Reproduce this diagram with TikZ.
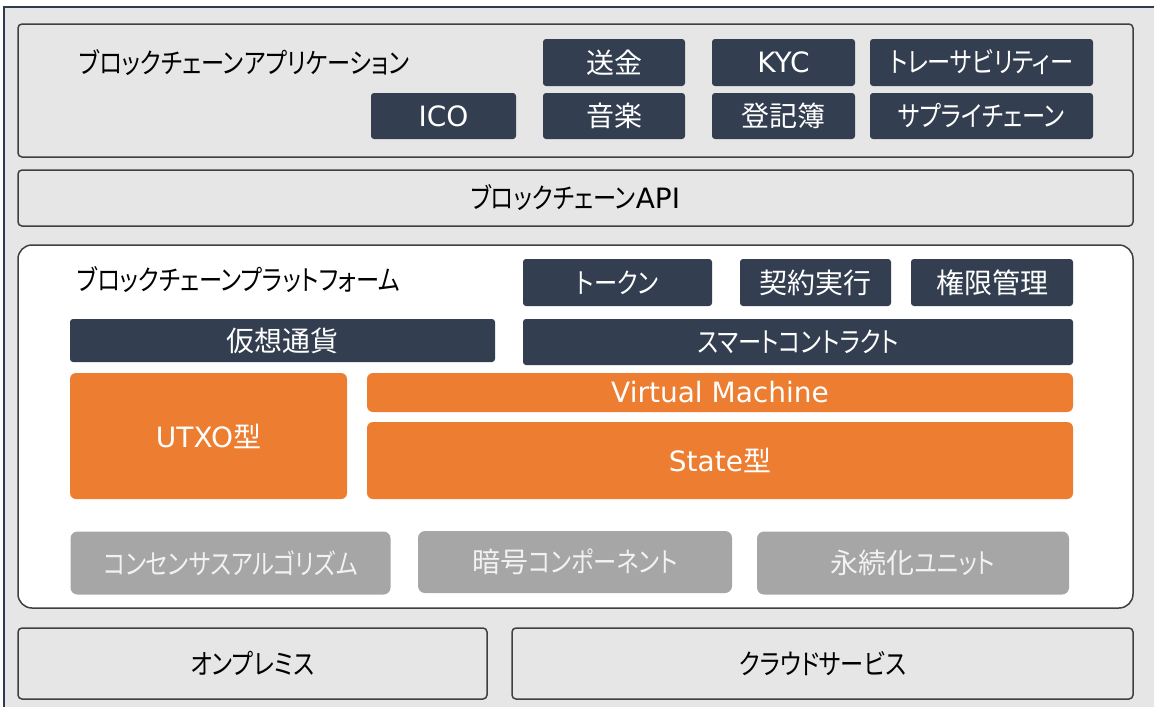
\documentclass[tikz,border=0pt]{standalone}
\usepackage{graphicx}
\usepackage{fontspec}
\newfontfamily\jp{Noto Sans CJK JP}[RawFeature={+palt}]
\newfontfamily\lat{DejaVu Sans}
\newcommand\kn[1]{\scalebox{0.83}[1]{#1}}
\definecolor{framebg}{HTML}{E6E6E6}
\definecolor{navy}{HTML}{2F3B4F}
\definecolor{edge}{HTML}{404040}
\definecolor{dark}{HTML}{333F50}
\definecolor{orng}{HTML}{ED7D31}
\definecolor{gry}{HTML}{A6A6A6}
\definecolor{gtext}{HTML}{F2F2F2}
\begin{document}
\begin{tikzpicture}[x=1pt,y=-1pt,
  base/.style={inner sep=0pt, outer sep=0pt, font=\jp\fontsize{28}{30}\selectfont},
  layer/.style={base, draw=edge, line width=1.5pt, fill=framebg, rounded corners=4pt, text=black},
  plat/.style={base, draw=edge, line width=1.5pt, fill=white, rounded corners=14pt},
  darkbox/.style={base, fill=dark, text=white, rounded corners=3pt},
  orbox/.style={base, fill=orng, text=white, rounded corners=6pt},
  grbox/.style={base, fill=gry, text=gtext, rounded corners=7pt},
  title/.style={base, anchor=west, text=black}
]
\useasboundingbox (0,0) rectangle (1154,707);
\fill[white] (0,0) rectangle (1154,707);
\fill[framebg] (4,7) rectangle (1154,707);
\draw[navy, line width=2pt] (4,707) -- (4,7) -- (1154,7);

% application layer
\node[layer, minimum width=1115pt, minimum height=133pt] (app) at (575.5,90.5) {};
\node[title] (appt) at (79,63) {\kn{ブロックチェーンアプリケーション}};
\node[darkbox, minimum width=142pt, minimum height=47pt] (sokin) at (614,62.5) {送金};
\node[darkbox, minimum width=143pt, minimum height=47pt] (kyc) at (783.5,62.5) {\lat KYC};
\node[darkbox, minimum width=223pt, minimum height=47pt] (trace) at (981.5,62.5) {\kn{トレーサビリティー}};
\node[darkbox, minimum width=145pt, minimum height=46pt] (ico) at (443.5,116) {\lat ICO};
\node[darkbox, minimum width=142pt, minimum height=46pt] (music) at (614,116) {音楽};
\node[darkbox, minimum width=143pt, minimum height=46pt] (reg) at (783.5,116) {登記簿};
\node[darkbox, minimum width=223pt, minimum height=46pt] (supply) at (981.5,116) {\kn{サプライチェーン}};

% API layer
\node[layer, minimum width=1115pt, minimum height=56pt] (api) at (575.5,198) {\kn{ブロックチェーン}{\lat API}};

% platform layer
\node[plat, minimum width=1115pt, minimum height=363pt] (platform) at (575.5,426.5) {};
\node[title] (platt) at (77,280) {\kn{ブロックチェーンプラットフォーム}};
\node[darkbox, minimum width=189pt, minimum height=47pt] (token) at (617.5,282.5) {\kn{トークン}};
\node[darkbox, minimum width=151pt, minimum height=47pt] (contract) at (815.5,282.5) {契約実行};
\node[darkbox, minimum width=162pt, minimum height=47pt] (perm) at (992,282.5) {権限管理};
\node[darkbox, minimum width=425pt, minimum height=43pt] (vcur) at (282.5,340.5) {仮想通貨};
\node[darkbox, minimum width=550pt, minimum height=46pt] (smart) at (798,342) {\kn{スマートコントラクト}};
\node[orbox, minimum width=277pt, minimum height=126pt] (utxo) at (208.5,436) {{\lat UTXO}型};
\node[orbox, minimum width=706pt, minimum height=39pt] (vm) at (720,392.5) {\lat Virtual Machine};
\node[orbox, minimum width=706pt, minimum height=77pt] (state) at (720,460.5) {{\lat State}型};
\node[grbox, minimum width=320pt, minimum height=63pt] (consensus) at (230.5,563) {\kn{コンセンサスアルゴリズム}};
\node[grbox, minimum width=314pt, minimum height=62pt] (cryptocomp) at (575,562) {暗号\kn{コンポーネント}};
\node[grbox, minimum width=312pt, minimum height=63pt] (persist) at (913,563) {永続化\kn{ユニット}};

% infrastructure layer
\node[layer, minimum width=469pt, minimum height=71pt] (onprem) at (252.5,663.5) {\kn{オンプレミス}};
\node[layer, minimum width=621pt, minimum height=71pt] (cloud) at (822.5,663.5) {\kn{クラウドサービス}};
\end{tikzpicture}
\end{document}
